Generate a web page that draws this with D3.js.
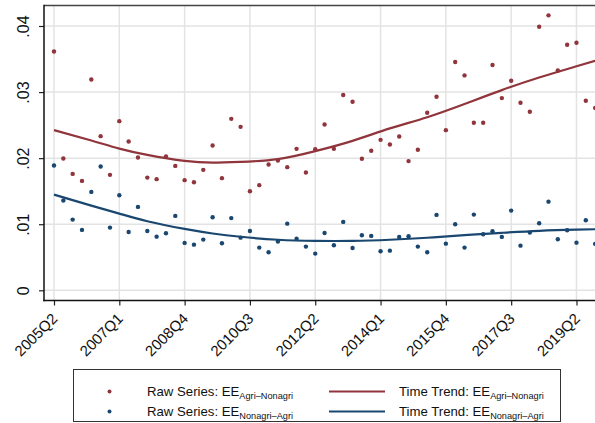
<!DOCTYPE html>
<html><head><meta charset="utf-8">
<script src="https://cdn.jsdelivr.net/npm/d3@7"></script>
<style>
html,body{margin:0;padding:0;background:#fff;}
svg{display:block;font-family:"Liberation Sans",Arial,Helvetica,sans-serif;}
</style></head><body>
<svg id="chart" width="595" height="423"></svg>
<script>
const quarters = ["2005Q2","2005Q3","2005Q4",
"2006Q1","2006Q2","2006Q3","2006Q4","2007Q1","2007Q2","2007Q3","2007Q4",
"2008Q1","2008Q2","2008Q3","2008Q4","2009Q1","2009Q2","2009Q3","2009Q4",
"2010Q1","2010Q2","2010Q3","2010Q4","2011Q1","2011Q2","2011Q3","2011Q4",
"2012Q1","2012Q2","2012Q3","2012Q4","2013Q1","2013Q2","2013Q3","2013Q4",
"2014Q1","2014Q2","2014Q3","2014Q4","2015Q1","2015Q2","2015Q3","2015Q4",
"2016Q1","2016Q2","2016Q3","2016Q4","2017Q1","2017Q2","2017Q3","2017Q4",
"2018Q1","2018Q2","2018Q3","2018Q4","2019Q1","2019Q2","2019Q3","2019Q4"];

const rawAgriNonagri = [0.03615,0.01994,0.01762,0.01656,0.0319,0.02333,0.01747,0.0256,0.02252,0.0201,
0.01706,0.01682,0.02025,0.01883,0.01667,0.01636,0.01823,0.02191,0.01697,0.02595,
0.02474,0.015,0.01591,0.01903,0.01964,0.01864,0.02141,0.01782,0.02136,0.02509,
0.02141,0.02955,0.02853,0.0199,0.02111,0.02277,0.02206,0.02327,0.01955,0.02128,
0.02686,0.02929,0.02424,0.03455,0.03252,0.02535,0.02535,0.03409,0.02909,0.03171,
0.02838,0.02702,0.03989,0.04161,0.03327,0.03717,0.03747,0.02868,0.02758];

const rawNonagriAgri = [0.01888,0.01358,0.0107,0.00914,0.01489,0.01873,0.00949,0.01439,0.00883,0.01262,
0.00898,0.00812,0.00863,0.01126,0.00717,0.00691,0.00767,0.01106,0.00712,0.01093,
0.00797,0.00898,0.00646,0.00576,0.00737,0.01009,0.00782,0.00661,0.00555,0.00868,
0.00682,0.01035,0.00641,0.00833,0.00823,0.00591,0.006,0.00808,0.00818,0.00661,
0.00576,0.01141,0.00706,0.01,0.00646,0.01146,0.00848,0.00894,0.00808,0.01206,
0.00676,0.00873,0.01015,0.01342,0.00773,0.00909,0.00721,0.01061,0.00702];

// trend read at selected quarters
const trendQuarters = ["2005Q2","2006Q2","2007Q1","2007Q4","2008Q4","2009Q3","2010Q2","2011Q2","2012Q2","2013Q2","2014Q2","2015Q2","2016Q2","2017Q2","2018Q2","2019Q2","2019Q4"];
const trendAgriNonagri = [0.02424,0.02267,0.02145,0.0205,0.01959,0.01933,0.01944,0.01985,0.02106,0.02262,0.0245,0.0262,0.0282,0.0303,0.0322,0.0339,0.03474];
const trendNonagriAgri = [0.01448,0.01282,0.01161,0.01045,0.00929,0.0086,0.0081,0.00765,0.00748,0.00748,0.00765,0.00795,0.00835,0.0087,0.009,0.00918,0.00924];

const xTickLabels = ["2005Q2","2007Q1","2008Q4","2010Q3","2012Q2","2014Q1","2015Q4","2017Q3","2019Q2"];
const yTicks = [0,0.01,0.02,0.03,0.04];
const yTickLabels = ["0",".01",".02",".03",".04"];

const RED = "#90353b", BLUE = "#1a476f";
const svg = d3.select("#chart");

const pLeft = 44, pTop = 5.5, pBottom = 300.5, pRight = 595;
const x = d3.scalePoint().domain(quarters).range([54, 54 + 9.33 * (quarters.length - 1)]);
const y = d3.scaleLinear().domain([0, 0.04]).range([290.3, 26]);

// gridlines
const grid = svg.append("g").attr("stroke", "#e3e3e3").attr("stroke-width", 1.5);
yTicks.forEach(v => grid.append("line").attr("x1", pLeft).attr("x2", pRight).attr("y1", y(v)).attr("y2", y(v)));
xTickLabels.forEach(q => grid.append("line").attr("x1", x(q)).attr("x2", x(q)).attr("y1", pTop).attr("y2", pBottom));

// frame top
svg.append("line").attr("x1", pLeft).attr("x2", pRight).attr("y1", pTop).attr("y2", pTop).attr("stroke", "#444").attr("stroke-width", 1.5);

// trend lines
const lineGen = d3.line().x((d, i) => x(trendQuarters[i])).y(d => y(d)).curve(d3.curveNatural);
svg.append("path").attr("d", lineGen(trendAgriNonagri)).attr("fill", "none").attr("stroke", RED).attr("stroke-width", 2.2);
svg.append("path").attr("d", lineGen(trendNonagriAgri)).attr("fill", "none").attr("stroke", BLUE).attr("stroke-width", 2.2);

// points
svg.append("g").selectAll("circle").data(rawAgriNonagri).join("circle")
  .attr("cx", (d, i) => x(quarters[i])).attr("cy", d => y(d)).attr("r", 2.2).attr("fill", RED);
svg.append("g").selectAll("circle").data(rawNonagriAgri).join("circle")
  .attr("cx", (d, i) => x(quarters[i])).attr("cy", d => y(d)).attr("r", 2.2).attr("fill", BLUE);

// y axis
const yAxis = svg.append("g").attr("transform", `translate(${pLeft},0)`)
  .call(d3.axisLeft(y).tickValues(yTicks).tickSize(5).tickFormat((d, i) => yTickLabels[i]));
yAxis.select(".domain").remove();
yAxis.selectAll(".tick line").attr("stroke", "#222").attr("stroke-width", 1.2);
yAxis.selectAll(".tick text").attr("font-size", 16).attr("fill", "#111").attr("text-anchor", "middle")
  .attr("x", null).attr("dy", null)
  .attr("transform", "translate(-15,0) rotate(-90)");
svg.append("line").attr("x1", pLeft).attr("x2", pLeft).attr("y1", pTop - 0.75).attr("y2", pBottom + 0.75).attr("stroke", "#111").attr("stroke-width", 1.5);

// x axis
const xAxis = svg.append("g").attr("transform", `translate(0,${pBottom})`)
  .call(d3.axisBottom(x).tickValues(xTickLabels).tickSize(5));
xAxis.select(".domain").remove();
xAxis.selectAll(".tick line").attr("stroke", "#222").attr("stroke-width", 1.2);
xAxis.selectAll(".tick text").attr("font-size", 15).attr("fill", "#111").attr("text-anchor", "end")
  .attr("y", null).attr("dy", null)
  .attr("transform", "translate(4,19) rotate(-45)");
svg.append("line").attr("x1", pLeft - 0.75).attr("x2", pRight).attr("y1", pBottom).attr("y2", pBottom).attr("stroke", "#111").attr("stroke-width", 1.5);

// legend
const leg = svg.append("g");
leg.append("rect").attr("x", 73.5).attr("y", 369.5).attr("width", 487).attr("height", 52)
  .attr("fill", "#fff").attr("stroke", "#333").attr("stroke-width", 1);
const legendItems = [
  {row: 0, kind: "dot", color: RED, label: "Raw Series: EE", sub: "Agri\u2013Nonagri"},
  {row: 1, kind: "dot", color: BLUE, label: "Raw Series: EE", sub: "Nonagri\u2013Agri"},
  {row: 0, kind: "line", color: RED, label: "Time Trend: EE", sub: "Agri\u2013Nonagri"},
  {row: 1, kind: "line", color: BLUE, label: "Time Trend: EE", sub: "Nonagri\u2013Agri"}
];
legendItems.forEach(it => {
  const cy = 391.5 + it.row * 20;
  let tx;
  if (it.kind === "dot") {
    leg.append("circle").attr("cx", 109.5).attr("cy", cy).attr("r", 2).attr("fill", it.color);
    tx = 147;
  } else {
    leg.append("line").attr("x1", 329).attr("x2", 385).attr("y1", cy).attr("y2", cy).attr("stroke", it.color).attr("stroke-width", 2.2);
    tx = 399;
  }
  const t = leg.append("text").attr("x", tx).attr("y", cy + 4.8).attr("font-size", 13.2).attr("fill", "#111");
  t.append("tspan").text(it.label);
  t.append("tspan").attr("font-size", 9.2).attr("dy", 2.5).text(it.sub);
});
</script>
</body></html>
